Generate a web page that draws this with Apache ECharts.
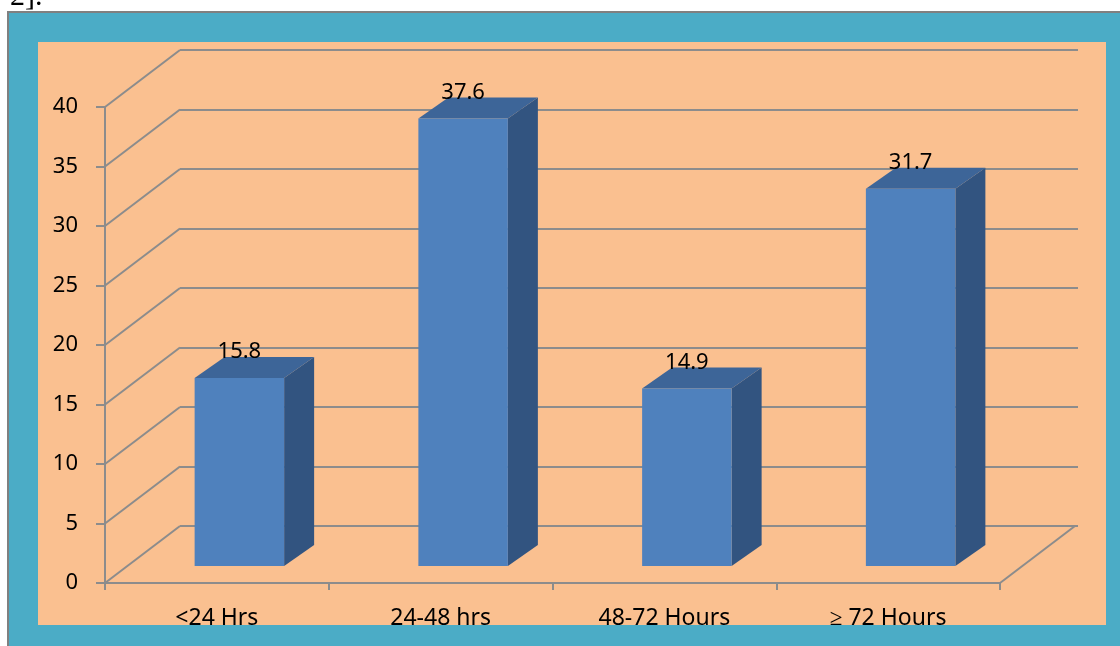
<!DOCTYPE html>
<html>
<head>
<meta charset="utf-8">
<script src="https://cdn.jsdelivr.net/npm/echarts@6/dist/echarts.min.js"></script>
<style>
    html, body { margin: 0; padding: 0; background: #fff; }
    #chart { width: 1120px; height: 646px; }
</style>
</head>
<body>
<div id="chart"></div>
<script>
// data
const categories = ['<24 Hrs', '24-48 hrs', '48-72 Hours', '\u2265 72 Hours'];
const values = [15.8, 37.6, 14.9, 31.7];
const yTicks = [0, 5, 10, 15, 20, 25, 30, 35, 40];

// front plane and back wall of the fake 3d box
const front = { left: 105, right: 120, top: 107, bottom: 63 };
const back = { left: 180, right: 42, top: 50, bottom: 120 };
const depthX = back.left - front.left;        // 75
const depthY = front.bottom - back.bottom;    // -57

const gridColor = '#8c8c8c';
const font = 'Noto Sans';

const chart = echarts.init(document.getElementById('chart'));

chart.setOption({
    backgroundColor: '#fff',
    animation: false,
    graphic: [
        { type: 'rect', z: -100, shape: { x: 8, y: 12, width: 1120, height: 640 },
          style: { fill: '#4bacc6', stroke: '#808080', lineWidth: 2 } },
        { type: 'rect', z: -90, shape: { x: 38, y: 42, width: 1068, height: 583 },
          style: { fill: '#fac090' } },
        // bottom band hides the lower part of the category labels
        { type: 'rect', z: 100, shape: { x: 9, y: 625, width: 1111, height: 21 },
          style: { fill: '#4bacc6' } },
        { type: 'text', z: 100, x: 10, y: 12,
          style: { text: '2].', fontSize: 30, fontFamily: 'Liberation Serif', fill: '#000',
                   verticalAlign: 'bottom' } }
    ],
    grid: [
        Object.assign({ containLabel: false }, front),
        Object.assign({ containLabel: false }, back)
    ],
    xAxis: [{
        type: 'category',
        gridIndex: 0,
        data: categories,
        boundaryGap: true,
        axisLine: { lineStyle: { color: gridColor, width: 2 } },
        axisTick: { show: true, length: 7, lineStyle: { color: gridColor, width: 2 } },
        axisLabel: { margin: 24, fontSize: 23, fontFamily: font, color: '#000' },
        splitLine: { show: false }
    }, {
        type: 'category',
        gridIndex: 1,
        data: categories,
        show: false
    }],
    yAxis: [{
        type: 'value',
        gridIndex: 0,
        min: 0,
        max: 40,
        interval: 5,
        axisLine: { show: true, lineStyle: { color: gridColor, width: 2 } },
        axisTick: { show: true, length: 9, lineStyle: { color: gridColor, width: 2 } },
        axisLabel: { margin: 27, fontSize: 22, fontFamily: font, color: '#000' },
        splitLine: { show: false }
    }, {
        type: 'value',
        gridIndex: 1,
        min: 0,
        max: 40,
        interval: 5,
        axisLine: { show: false },
        axisTick: { show: false },
        axisLabel: { show: false },
        splitLine: { show: true, lineStyle: { color: gridColor, width: 2 } }
    }],
    series: [{
        // side wall diagonals and the right floor edge
        type: 'custom',
        xAxisIndex: 0,
        yAxisIndex: 0,
        z: 1,
        silent: true,
        data: yTicks.map(v => [0, v]),
        renderItem: function (params, api) {
            const cs = params.coordSys;
            const y = api.coord([0, api.value(1)])[1];
            const children = [{
                type: 'line',
                shape: { x1: cs.x, y1: y, x2: cs.x + depthX, y2: y + depthY },
                style: { stroke: gridColor, lineWidth: 2 }
            }];
            if (api.value(1) === 0) {
                children.push({
                    type: 'line',
                    shape: { x1: cs.x + cs.width, y1: y, x2: cs.x + cs.width + depthX, y2: y + depthY },
                    style: { stroke: gridColor, lineWidth: 2 }
                });
            }
            return { type: 'group', children: children };
        }
    }, {
        type: 'custom',
        xAxisIndex: 0,
        yAxisIndex: 0,
        z: 3,
        data: values.map((v, i) => [i, v]),
        renderItem: function (params, api) {
            const i = api.value(0);
            const v = api.value(1);
            const base = api.coord([i, 0]);
            const top = api.coord([i, v]);
            const w = api.size([1, 0])[0] * 0.4;
            const sx = depthX * 0.3, sy = depthY * 0.3;
            const bx = 30, by = -21;
            const x0 = base[0] - w / 2 + sx;
            const x1 = x0 + w;
            const yb = base[1] + sy;
            const yt = top[1] + sy;
            return {
                type: 'group',
                children: [{
                    type: 'polygon',
                    shape: { points: [[x1, yt], [x1 + bx, yt + by], [x1 + bx, yb + by], [x1, yb]] },
                    style: { fill: '#325480' }
                }, {
                    type: 'polygon',
                    shape: { points: [[x0, yt], [x0 + bx, yt + by], [x1 + bx, yt + by], [x1, yt]] },
                    style: { fill: '#3d6598' }
                }, {
                    type: 'rect',
                    shape: { x: x0, y: yt, width: w, height: yb - yt },
                    style: { fill: '#4f81bd' }
                }, {
                    type: 'text',
                    x: x0 + w / 2,
                    y: yt - 26,
                    style: {
                        text: v.toFixed(1),
                        fontSize: 22,
                        fontFamily: font,
                        fill: '#000',
                        align: 'center',
                        verticalAlign: 'middle'
                    }
                }]
            };
        }
    }]
});
</script>
</body>
</html>
